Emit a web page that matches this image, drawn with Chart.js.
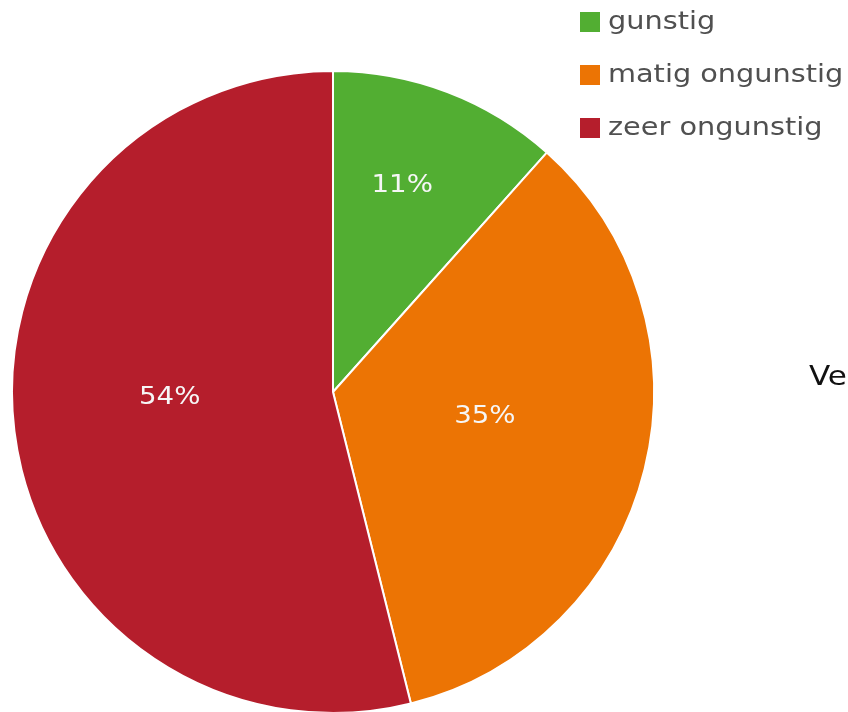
<!DOCTYPE html>
<html>
<head>
<meta charset="utf-8">
<script src="https://cdn.jsdelivr.net/npm/chart.js@4"></script>
<style>
  html, body { margin: 0; padding: 0; background: #fff; overflow: hidden; }
  #wrap { position: relative; width: 848px; height: 716px; }
</style>
</head>
<body>
<div id="wrap"><canvas id="pieChart"></canvas></div>
<script>
const categories = ['gunstig', 'matig ongunstig', 'zeer ongunstig'];
const shares = [11.6, 34.5, 53.9];
const shareLabels = ['11%', '35%', '54%'];
const sliceColors = ['#52ae32', '#ec7404', '#b51e2c'];
const titleText = 'Ve';

document.addEventListener('DOMContentLoaded', function() {
    const FONT = '"DejaVu Sans", Verdana, sans-serif';
    const WIDEN = 1.15; // DejaVu is narrower than the Verdana of the original

    function wideText(ctx, text, x, y, align) {
        ctx.save();
        ctx.translate(x, y);
        ctx.scale(WIDEN, 1);
        ctx.textAlign = align;
        ctx.fillText(text, 0, 0);
        ctx.restore();
    }

    // percentages inside the slices
    const sliceText = {
        id: 'sliceText',
        afterDatasetsDraw(chart) {
            const ctx = chart.ctx;
            const meta = chart.getDatasetMeta(0);
            ctx.save();
            ctx.font = '24px ' + FONT;
            ctx.fillStyle = '#f6f6f6';
            ctx.textBaseline = 'middle';
            meta.data.forEach((arc, i) => {
                const p = arc.getProps(['x', 'y', 'startAngle', 'endAngle', 'outerRadius'], true);
                const mid = (p.startAngle + p.endAngle) / 2;
                const span = p.endAngle - p.startAngle;
                const f = span < 1 ? 0.64 : 0.5;
                wideText(ctx, shareLabels[i], p.x + Math.cos(mid) * p.outerRadius * f - 4, p.y + Math.sin(mid) * p.outerRadius * f - 14, 'center');
            });
            ctx.restore();
        }
    };

    // legend top right + clipped title
    const sideLegend = {
        id: 'sideLegend',
        afterDraw(chart) {
            const ctx = chart.ctx;
            ctx.save();
            ctx.font = '25px ' + FONT;
            ctx.textBaseline = 'middle';
            categories.forEach((name, i) => {
                const y = 22 + i * 53;
                ctx.fillStyle = sliceColors[i];
                ctx.fillRect(580, y - 10, 20, 20);
                ctx.fillStyle = '#505050';
                wideText(ctx, name, 608, y, 'left');
            });
            ctx.font = '27px ' + FONT;
            ctx.fillStyle = '#111';
            wideText(ctx, titleText, 809, 378, 'left');
            ctx.restore();
        }
    };

    const ctx = document.getElementById('pieChart').getContext('2d');
    new Chart(ctx, {
        type: 'pie',
        data: {
            labels: categories,
            datasets: [{
                data: shares,
                backgroundColor: sliceColors,
                borderColor: '#ffffff',
                borderWidth: 2
            }]
        },
        options: {
            responsive: true,
            maintainAspectRatio: false,
            animation: false,
            layout: { padding: { left: 11, right: 193, top: 70, bottom: 2 } },
            plugins: {
                legend: { display: false },
                tooltip: { enabled: false }
            }
        },
        plugins: [sliceText, sideLegend]
    });
});
</script>
</body>
</html>
